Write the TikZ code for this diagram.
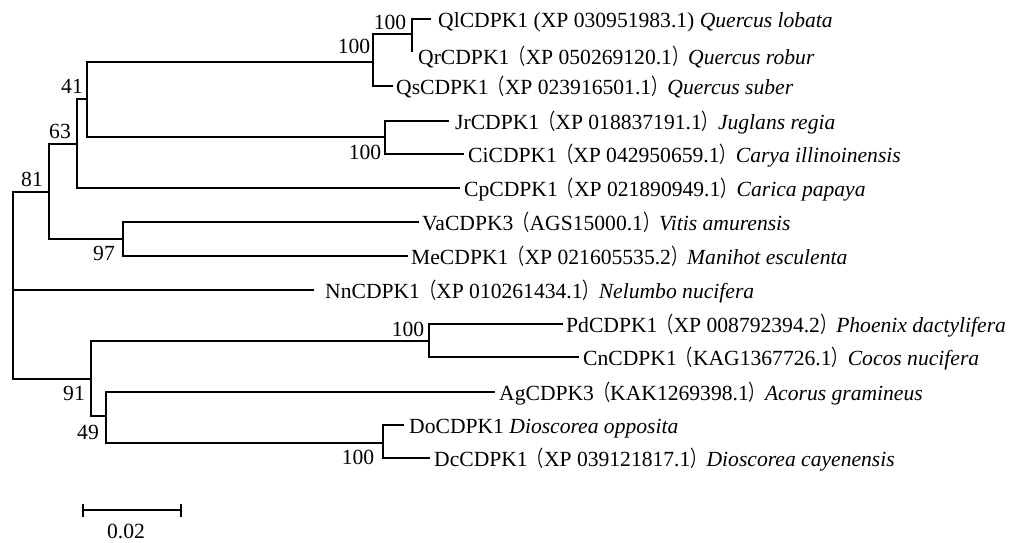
\documentclass[tikz,border=0pt]{standalone}
\usepackage{fontspec}
\setmainfont{Liberation Serif}
\newfontfamily\cjk{Noto Sans CJK SC}
\newcommand{\lpar}{\scalebox{0.75}[1]{\cjk （}}
\newcommand{\rpar}{\scalebox{0.75}[1]{\cjk ）}}
\begin{document}
\begin{tikzpicture}[x=1pt,y=-1pt,
  branch/.style={line width=2.2pt},
  leaf/.style={inner sep=0pt,anchor=base west},
  bs/.style={inner sep=0pt},
  font=\fontsize{21.6}{26}\selectfont]
\useasboundingbox (0,0) rectangle (1011,542);
% internal nodes
\coordinate (R) at (13,290);
\coordinate (N81) at (49,192);
\coordinate (N63) at (77,144);
\coordinate (N41) at (87,99);
\coordinate (NQ) at (373,62);
\coordinate (NQlr) at (412,34);
\coordinate (NJC) at (385,137);
\coordinate (NVM) at (123,239);
\coordinate (N91) at (91,379);
\coordinate (NPC) at (429,341);
\coordinate (N49) at (106,416);
\coordinate (NDD) at (383,443);
% leaf tips
\coordinate (tQl) at (431,19);
\coordinate (tQr) at (412,52);
\coordinate (tQs) at (393,86);
\coordinate (tJr) at (449,121);
\coordinate (tCi) at (464,154);
\coordinate (tCp) at (460,188);
\coordinate (tVa) at (419,222);
\coordinate (tMe) at (408,256);
\coordinate (tNn) at (314,290);
\coordinate (tPd) at (563,324);
\coordinate (tCn) at (579,357);
\coordinate (tAg) at (495,392);
\coordinate (tDo) at (404,425);
\coordinate (tDc) at (430,458);
% leaf labels
\node[leaf] (Ql) at (438,27) {QlCDPK1 (XP 030951983.1) \textit{Quercus lobata}};
\node[leaf] (Qr) at (418,64) {QrCDPK1\lpar XP 050269120.1\rpar\textit{Quercus robur}};
\node[leaf] (Qs) at (396,94) {QsCDPK1\lpar XP 023916501.1\rpar\textit{Quercus suber}};
\node[leaf] (Jr) at (455,129) {JrCDPK1\lpar XP 018837191.1\rpar\textit{Juglans regia}};
\node[leaf] (Ci) at (468,162) {CiCDPK1\lpar XP 042950659.1\rpar\textit{Carya illinoinensis}};
\node[leaf] (Cp) at (464,196) {CpCDPK1\lpar XP 021890949.1\rpar\textit{Carica papaya}};
\node[leaf] (Va) at (422,230) {VaCDPK3\lpar AGS15000.1\rpar\textit{Vitis amurensis}};
\node[leaf] (Me) at (411,264) {MeCDPK1\lpar XP 021605535.2\rpar\textit{Manihot esculenta}};
\node[leaf] (Nn) at (325,298) {NnCDPK1\lpar XP 010261434.1\rpar\textit{Nelumbo nucifera}};
\node[leaf] (Pd) at (566,332) {PdCDPK1\lpar XP 008792394.2\rpar\textit{Phoenix dactylifera}};
\node[leaf] (Cn) at (583,365) {CnCDPK1\lpar KAG1367726.1\rpar\textit{Cocos nucifera}};
\node[leaf] (Ag) at (499,400) {AgCDPK3\lpar KAK1269398.1\rpar\textit{Acorus gramineus}};
\node[leaf] (Do) at (409,433) {DoCDPK1 \textit{Dioscorea opposita}};
\node[leaf] (Dc) at (434,466) {DcCDPK1\lpar XP 039121817.1\rpar\textit{Dioscorea cayenensis}};
% branches
\draw[branch] (R) |- (N81);
\draw[branch] (R) |- (tNn);
\draw[branch] (R) |- (N91);
\draw[branch] (N81) |- (N63);
\draw[branch] (N81) |- (NVM);
\draw[branch] (N63) |- (N41);
\draw[branch] (N63) |- (tCp);
\draw[branch] (N41) |- (NQ);
\draw[branch] (N41) |- (NJC);
\draw[branch] (NQ) |- (NQlr);
\draw[branch] (NQ) |- (tQs);
\draw[branch] (NQlr) |- (tQl);
\draw[branch] (NQlr) -- (tQr);
\draw[branch] (NJC) |- (tJr);
\draw[branch] (NJC) |- (tCi);
\draw[branch] (NVM) |- (tVa);
\draw[branch] (NVM) |- (tMe);
\draw[branch] (N91) |- (NPC);
\draw[branch] (N91) |- (N49);
\draw[branch] (NPC) |- (tPd);
\draw[branch] (NPC) |- (tCn);
\draw[branch] (N49) |- (tAg);
\draw[branch] (N49) |- (NDD);
\draw[branch] (NDD) |- (tDo);
\draw[branch] (NDD) |- (tDc);
% bootstrap values
\node[bs] (bQlr) at (390,22) {100};
\node[bs] (bQ) at (354,46) {100};
\node[bs] (b41) at (72,86) {41};
\node[bs] (b63) at (60,131) {63};
\node[bs] (b81) at (32,179) {81};
\node[bs] (bJC) at (365,152) {100};
\node[bs] (b97) at (104,253) {97};
\node[bs] (bPC) at (408,329) {100};
\node[bs] (b91) at (74,393) {91};
\node[bs] (b49) at (88,432) {49};
\node[bs] (bDD) at (358,457) {100};
% scale bar
\coordinate (sL) at (83,510);
\coordinate (sR) at (181,510);
\draw[branch] (sL) -- (sR);
\draw[branch] ([yshift=-6.5pt]sL) -- ([yshift=6.5pt]sL);
\draw[branch] ([yshift=-6.5pt]sR) -- ([yshift=6.5pt]sR);
\node[bs] (scale) at (126,531) {0.02};
\end{tikzpicture}
\end{document}
